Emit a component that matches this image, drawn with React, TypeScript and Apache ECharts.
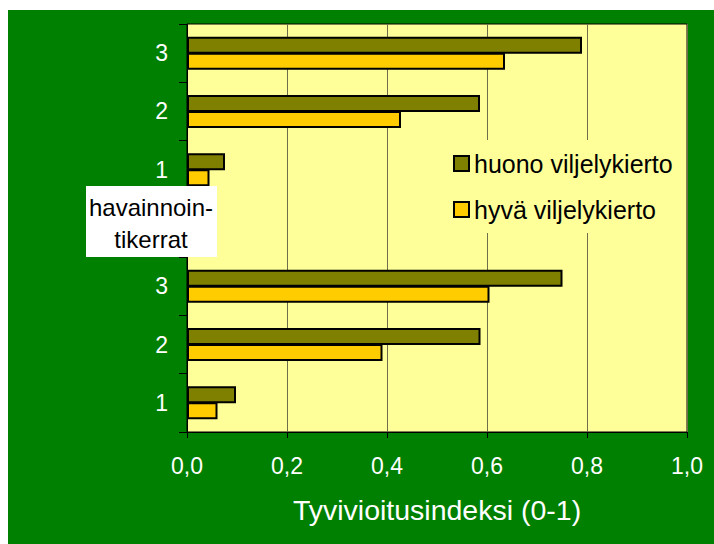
import React, { useEffect, useRef } from "react";
import * as echarts from "echarts";

const categories = ["1", "2", "3", "", "1", "2", "3"];
const seriesNames = ["huono viljelykierto", "hyvä viljelykierto"];
const huono = [0.098, 0.587, 0.751, null, 0.076, 0.586, 0.79];
const hyva = [0.061, 0.391, 0.605, null, 0.045, 0.428, 0.636];
const xTicks = { min: 0, max: 1, interval: 0.2 };
const axisTitle = "Tyvivioitusindeksi (0-1)";
const boxLines = ["havainnoin-", "tikerrat"];

const FONT = "'Liberation Sans', Arial, sans-serif";

export default function App() {
  const ref = useRef<HTMLDivElement>(null);
  useEffect(() => {
    if (!ref.current) return;
    const chart = echarts.init(ref.current, null, { renderer: "svg" });
    chart.setOption({
      animation: false,
      backgroundColor: "#008000",
      textStyle: { fontFamily: FONT },
      grid: {
        left: 179,
        top: 14,
        right: 27,
        bottom: 112,
        show: true,
        backgroundColor: "#FFFF99",
        borderColor: "#000",
        borderWidth: 1,
      },
      legend: {
        data: seriesNames,
        orient: "vertical",
        left: 437,
        top: 130,
        padding: [11, 10, 11, 8],
        backgroundColor: "#FFFF99",
        itemWidth: 15,
        itemHeight: 15,
        itemGap: 21,
        icon: "rect",
        textStyle: { color: "#000", fontSize: 25, fontFamily: FONT, lineHeight: 24 },
      },
      xAxis: {
        type: "value",
        min: xTicks.min,
        max: xTicks.max,
        interval: xTicks.interval,
        axisLine: { show: true, lineStyle: { color: "#000", width: 1 } },
        axisTick: { show: true, length: 6, lineStyle: { color: "#000" } },
        splitLine: { show: true, lineStyle: { color: "#6e6e4a", width: 1 } },
        axisLabel: {
          color: "#fff",
          fontSize: 23,
          fontFamily: FONT,
          margin: 22,
          formatter: (v: number) => v.toFixed(1).replace(".", ","),
        },
        name: axisTitle,
        nameLocation: "middle",
        nameGap: 63,
        nameTextStyle: { color: "#fff", fontSize: 28.5, fontFamily: FONT },
      },
      yAxis: {
        type: "category",
        data: categories,
        axisLine: { show: true, lineStyle: { color: "#000", width: 1 } },
        axisTick: { show: true, length: 8, lineStyle: { color: "#000" } },
        splitLine: { show: false },
        axisLabel: { color: "#fff", fontSize: 23, fontFamily: FONT, margin: 19 },
      },
      series: [
        {
          name: seriesNames[0],
          type: "bar",
          data: huono,
          barWidth: 17,
          barGap: "-6%",
          itemStyle: { color: "#808000", borderColor: "#000", borderWidth: 2 },
        },
        {
          name: seriesNames[1],
          type: "bar",
          data: hyva,
          barWidth: 17,
          barGap: "-6%",
          itemStyle: { color: "#FFCC00", borderColor: "#000", borderWidth: 2 },
        },
      ],
      graphic: [
        {
          type: "rect",
          z: 100,
          zlevel: 1,
          shape: { x: 78, y: 176, width: 131, height: 71 },
          style: { fill: "#fff" },
        },
        {
          type: "text",
          z: 101,
          zlevel: 1,
          x: 143,
          y: 197,
          style: {
            text: boxLines[0],
            fill: "#000",
            font: `24px ${FONT}`,
            textAlign: "center",
            textVerticalAlign: "middle",
          },
        },
        {
          type: "text",
          z: 101,
          zlevel: 1,
          x: 143,
          y: 229,
          style: {
            text: boxLines[1],
            fill: "#000",
            font: `24px ${FONT}`,
            textAlign: "center",
            textVerticalAlign: "middle",
          },
        },
      ],
    });
    return () => chart.dispose();
  }, []);
  return (
    <div
      ref={ref}
      style={{ position: "absolute", left: 8, top: 10, width: 706, height: 534 }}
    />
  );
}
